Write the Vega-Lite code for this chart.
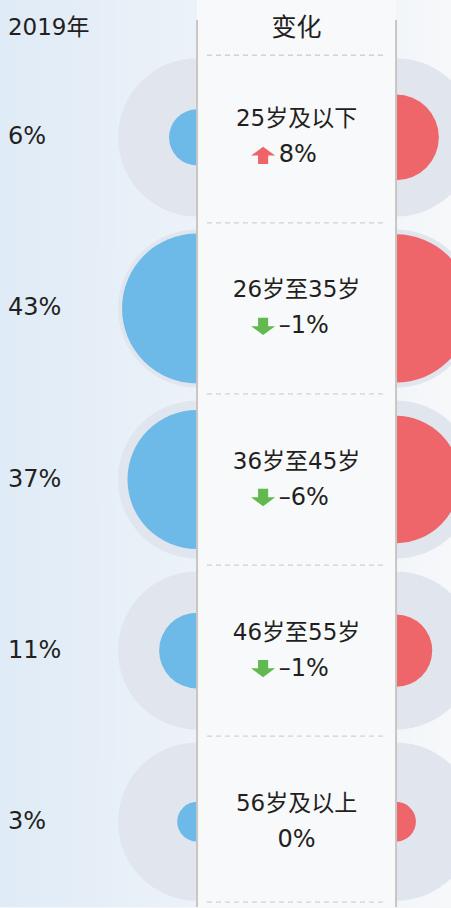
{
  "$schema": "https://vega.github.io/schema/vega-lite/v6.json",
  "width": 451,
  "height": 908,
  "autosize": {"type": "fit", "contains": "padding"},
  "padding": 0,
  "background": "#f5f7fa",
  "config": {"view": {"stroke": null}},
  "datasets": {
    "circles": [
      {"row": 1, "year": 2019, "pct": 6},
      {"row": 2, "year": 2019, "pct": 43},
      {"row": 3, "year": 2019, "pct": 37},
      {"row": 4, "year": 2019, "pct": 11},
      {"row": 5, "year": 2019, "pct": 3},
      {"row": 1, "year": 2020, "pct": 14},
      {"row": 2, "year": 2020, "pct": 42},
      {"row": 3, "year": 2020, "pct": 31},
      {"row": 4, "year": 2020, "pct": 10},
      {"row": 5, "year": 2020, "pct": 3}
    ],
    "ages": [
      {"row": 1, "age": "25岁及以下", "p2019": "6%", "change": "8%", "dir": "up"},
      {"row": 2, "age": "26岁至35岁", "p2019": "43%", "change": "–1%", "dir": "down"},
      {"row": 3, "age": "36岁至45岁", "p2019": "37%", "change": "–6%", "dir": "down"},
      {"row": 4, "age": "46岁至55岁", "p2019": "11%", "change": "–1%", "dir": "down"},
      {"row": 5, "age": "56岁及以上", "p2019": "3%", "change": "0%", "dir": "none"}
    ],
    "seps": [{"b": 0.52}, {"b": 1.5}, {"b": 2.5}, {"b": 3.5}, {"b": 4.5}, {"b": 5.47}],
    "borders": [{"year": 2019}, {"year": 2020}]
  },
  "resolve": {"scale": {"color": "independent", "shape": "independent", "size": "independent"}},
  "layer": [
    {
      "data": {"values": [{}]},
      "mark": {
        "type": "rect",
        "color": {
          "gradient": "linear", "x1": 0, "x2": 1, "y1": 0, "y2": 0,
          "stops": [
            {"offset": 0, "color": "#dfebf6"},
            {"offset": 0.2, "color": "#e5eef7"},
            {"offset": 0.44, "color": "#ecf2f9"},
            {"offset": 0.88, "color": "#f3f6f9"},
            {"offset": 1, "color": "#f6f8fa"}
          ]
        }
      },
      "encoding": {
        "x": {"datum": 2018.01, "type": "quantitative", "scale": {"domain": [2018.01, 2020.276], "nice": false, "zero": false}, "axis": null},
        "x2": {"datum": 2020.276},
        "y": {"datum": 0.197, "type": "quantitative", "scale": {"domain": [0.197, 5.499], "reverse": true, "nice": false, "zero": false}, "axis": null},
        "y2": {"datum": 5.499}
      }
    },
    {
      "data": {"name": "circles"},
      "mark": {"type": "point", "filled": true, "opacity": 1, "size": 25000, "color": "#e1e6ee", "clip": true, "strokeWidth": 0},
      "encoding": {
        "x": {"field": "year", "type": "quantitative", "scale": {"domain": [2018.01, 2020.276], "nice": false, "zero": false}, "axis": null},
        "y": {"field": "row", "type": "quantitative", "scale": {"domain": [0.197, 5.499], "reverse": true, "nice": false, "zero": false}, "axis": null}
      }
    },
    {
      "data": {"name": "circles"},
      "mark": {"type": "point", "filled": true, "opacity": 1, "clip": true, "strokeWidth": 0},
      "encoding": {
        "x": {"field": "year", "type": "quantitative", "scale": {"domain": [2018.01, 2020.276], "nice": false, "zero": false}, "axis": null},
        "y": {"field": "row", "type": "quantitative", "scale": {"domain": [0.197, 5.499], "reverse": true, "nice": false, "zero": false}, "axis": null},
        "size": {"field": "pct", "type": "quantitative", "scale": {"type": "linear", "domain": [0, 43], "range": [0, 22500], "zero": true}, "legend": null},
        "color": {"field": "year", "type": "nominal", "scale": {"domain": [2019, 2020], "range": ["#6dbae8", "#ee6669"]}, "legend": null}
      }
    },
    {
      "data": {"values": [{}]},
      "mark": {"type": "rect", "color": "#f7f9fb"},
      "encoding": {
        "x": {"datum": 2019, "type": "quantitative", "scale": {"domain": [2018.01, 2020.276], "nice": false, "zero": false}, "axis": null},
        "x2": {"datum": 2020},
        "y": {"datum": 0.197, "type": "quantitative", "scale": {"domain": [0.197, 5.499], "reverse": true, "nice": false, "zero": false}, "axis": null},
        "y2": {"datum": 5.499}
      }
    },
    {
      "data": {"name": "seps"},
      "mark": {"type": "rule", "color": "#d0d2d5", "strokeWidth": 1.3, "strokeDash": [5, 4]},
      "encoding": {
        "x": {"datum": 2019.05, "type": "quantitative", "scale": {"domain": [2018.01, 2020.276], "nice": false, "zero": false}, "axis": null},
        "x2": {"datum": 2019.955},
        "y": {"field": "b", "type": "quantitative", "scale": {"domain": [0.197, 5.499], "reverse": true, "nice": false, "zero": false}, "axis": null}
      }
    },
    {
      "data": {"name": "borders"},
      "mark": {"type": "rule", "color": "#c9c5c2", "strokeWidth": 2},
      "encoding": {
        "x": {"field": "year", "type": "quantitative", "scale": {"domain": [2018.01, 2020.276], "nice": false, "zero": false}, "axis": null},
        "y": {"datum": 0.314, "type": "quantitative", "scale": {"domain": [0.197, 5.499], "reverse": true, "nice": false, "zero": false}, "axis": null},
        "y2": {"datum": 5.499}
      }
    },
    {
      "data": {"name": "ages"},
      "mark": {"type": "text", "align": "center", "baseline": "middle", "dy": -18, "fontSize": 23, "font": "DejaVu Sans, Noto Sans CJK SC", "color": "#231f20"},
      "encoding": {
        "x": {"datum": 2019.5, "type": "quantitative", "scale": {"domain": [2018.01, 2020.276], "nice": false, "zero": false}, "axis": null},
        "y": {"field": "row", "type": "quantitative", "scale": {"domain": [0.197, 5.499], "reverse": true, "nice": false, "zero": false}, "axis": null},
        "text": {"field": "age"}
      }
    },
    {
      "data": {"name": "ages"},
      "transform": [{"filter": "datum.dir !== 'none'"}],
      "mark": {"type": "text", "align": "left", "baseline": "middle", "dy": 18, "fontSize": 24, "font": "DejaVu Sans, Noto Sans CJK SC", "color": "#231f20"},
      "encoding": {
        "x": {"datum": 2019.41, "type": "quantitative", "scale": {"domain": [2018.01, 2020.276], "nice": false, "zero": false}, "axis": null},
        "y": {"field": "row", "type": "quantitative", "scale": {"domain": [0.197, 5.499], "reverse": true, "nice": false, "zero": false}, "axis": null},
        "text": {"field": "change"}
      }
    },
    {
      "data": {"name": "ages"},
      "transform": [{"filter": "datum.dir === 'none'"}],
      "mark": {"type": "text", "align": "center", "baseline": "middle", "dy": 18, "fontSize": 24, "font": "DejaVu Sans, Noto Sans CJK SC", "color": "#231f20"},
      "encoding": {
        "x": {"datum": 2019.5, "type": "quantitative", "scale": {"domain": [2018.01, 2020.276], "nice": false, "zero": false}, "axis": null},
        "y": {"field": "row", "type": "quantitative", "scale": {"domain": [0.197, 5.499], "reverse": true, "nice": false, "zero": false}, "axis": null},
        "text": {"field": "change"}
      }
    },
    {
      "data": {"name": "ages"},
      "transform": [{"filter": "datum.dir !== 'none'"}],
      "mark": {"type": "point", "filled": true, "opacity": 1, "size": 576, "yOffset": 18, "strokeWidth": 0},
      "encoding": {
        "x": {"datum": 2019.332, "type": "quantitative", "scale": {"domain": [2018.01, 2020.276], "nice": false, "zero": false}, "axis": null},
        "y": {"field": "row", "type": "quantitative", "scale": {"domain": [0.197, 5.499], "reverse": true, "nice": false, "zero": false}, "axis": null},
        "shape": {"field": "dir", "type": "nominal", "scale": {"domain": ["up", "down"], "range": ["M0,-0.72 L1,0.02 L0.42,0.02 L0.42,0.72 L-0.42,0.72 L-0.42,0.02 L-1,0.02 Z", "M0,0.72 L1,-0.02 L0.42,-0.02 L0.42,-0.72 L-0.42,-0.72 L-0.42,-0.02 L-1,-0.02 Z"]}, "legend": null},
        "color": {"field": "dir", "type": "nominal", "scale": {"domain": ["up", "down"], "range": ["#ee6468", "#62b94f"]}, "legend": null}
      }
    },
    {
      "data": {"name": "ages"},
      "mark": {"type": "text", "align": "left", "baseline": "middle", "fontSize": 24, "font": "DejaVu Sans, Noto Sans CJK SC", "color": "#231f20"},
      "encoding": {
        "x": {"datum": 2018.05, "type": "quantitative", "scale": {"domain": [2018.01, 2020.276], "nice": false, "zero": false}, "axis": null},
        "y": {"field": "row", "type": "quantitative", "scale": {"domain": [0.197, 5.499], "reverse": true, "nice": false, "zero": false}, "axis": null},
        "text": {"field": "p2019"}
      }
    },
    {
      "data": {"values": [{"label": "2019年"}]},
      "mark": {"type": "text", "align": "left", "baseline": "middle", "fontSize": 23, "font": "DejaVu Sans, Noto Sans CJK SC", "color": "#231f20"},
      "encoding": {
        "x": {"datum": 2018.05, "type": "quantitative", "scale": {"domain": [2018.01, 2020.276], "nice": false, "zero": false}, "axis": null},
        "y": {"datum": 0.36, "type": "quantitative", "scale": {"domain": [0.197, 5.499], "reverse": true, "nice": false, "zero": false}, "axis": null},
        "text": {"field": "label"}
      }
    },
    {
      "data": {"values": [{"label": "变化"}]},
      "mark": {"type": "text", "align": "center", "baseline": "middle", "fontSize": 25, "font": "DejaVu Sans, Noto Sans CJK SC", "color": "#231f20"},
      "encoding": {
        "x": {"datum": 2019.5, "type": "quantitative", "scale": {"domain": [2018.01, 2020.276], "nice": false, "zero": false}, "axis": null},
        "y": {"datum": 0.36, "type": "quantitative", "scale": {"domain": [0.197, 5.499], "reverse": true, "nice": false, "zero": false}, "axis": null},
        "text": {"field": "label"}
      }
    }
  ]
}
